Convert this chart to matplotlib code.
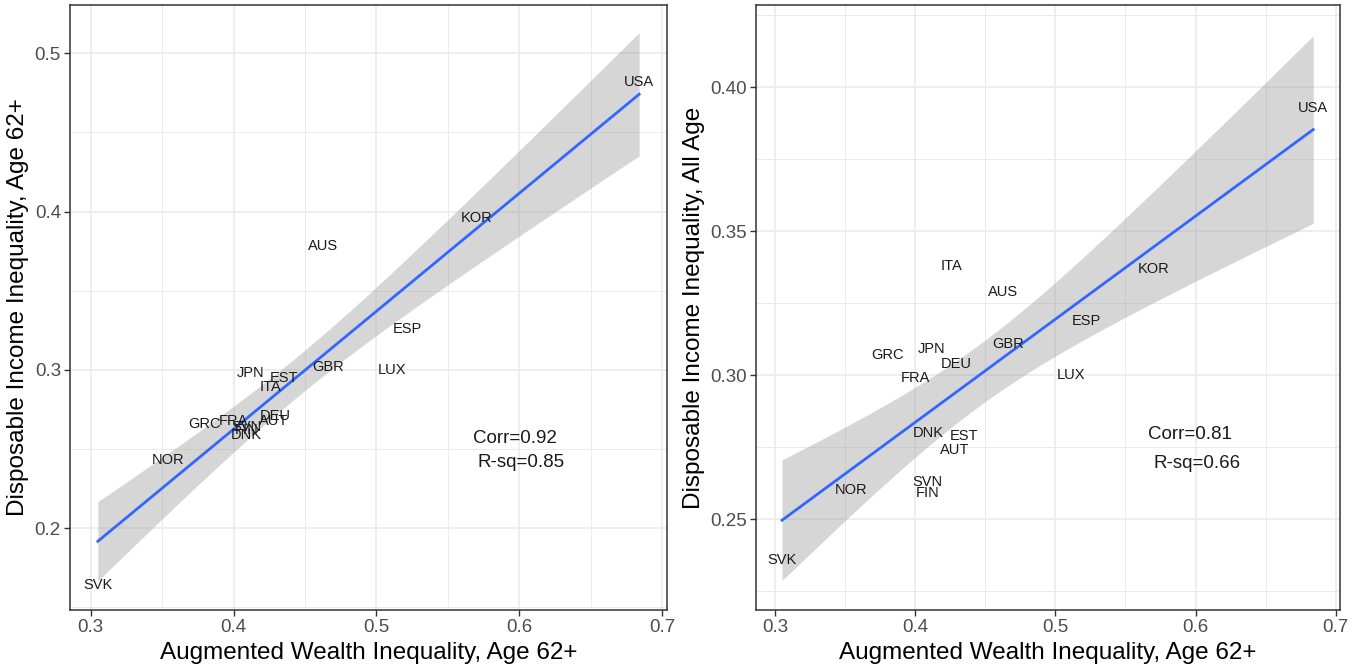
import numpy as np
import matplotlib.pyplot as plt

plt.rcParams['font.family'] = ['Liberation Sans', 'DejaVu Sans']

countries = ["USA", "KOR", "AUS", "ESP", "LUX", "GBR", "JPN", "EST", "ITA",
             "GRC", "FRA", "DEU", "AUT", "SVN", "FIN", "DNK", "NOR", "SVK"]
wealth = [0.684, 0.570, 0.463, 0.522, 0.511, 0.466, 0.412, 0.435, 0.426,
          0.380, 0.400, 0.429, 0.428, 0.409, 0.409, 0.409, 0.354, 0.305]
income_62 = [0.482, 0.396, 0.378, 0.326, 0.300, 0.302, 0.298, 0.295, 0.289,
             0.266, 0.268, 0.271, 0.268, 0.264, 0.262, 0.259, 0.243, 0.164]
income_all = [0.393, 0.337, 0.329, 0.319, 0.300, 0.311, 0.309, 0.279, 0.338,
              0.307, 0.299, 0.304, 0.274, 0.263, 0.259, 0.280, 0.260, 0.236]

T_CRIT = 2.1199  # t(0.975, df=16)


def lm_band(x, y, xs):
    """OLS fit with 95% confidence band, like geom_smooth(method='lm')."""
    x = np.asarray(x)
    y = np.asarray(y)
    n = len(x)
    b, a = np.polyfit(x, y, 1)
    resid = y - (a + b * x)
    s = np.sqrt(np.sum(resid**2) / (n - 2))
    se = s * np.sqrt(1 / n + (xs - x.mean())**2 / np.sum((x - x.mean())**2))
    fit = a + b * xs
    return fit, fit - T_CRIT * se, fit + T_CRIT * se


def draw_panel(ax, y, ylabel, corr_pos, rsq_pos, corr, rsq,
               xlim, ylim, yticks, yminor, yfmt):
    xs = np.linspace(min(wealth), max(wealth), 200)
    fit, lo, hi = lm_band(wealth, y, xs)
    ax.fill_between(xs, lo, hi, color="#999999", alpha=0.4, lw=0, zorder=2)
    ax.plot(xs, fit, color="#3366FF", lw=2, zorder=3)
    for c, xv, yv in zip(countries, wealth, y):
        ax.text(xv, yv, c, ha="center", va="center", fontsize=10.5,
                color="#1a1a1a", zorder=4)
    ax.text(*corr_pos, corr, ha="center", va="center", fontsize=13.5,
            color="#1a1a1a", zorder=4)
    ax.text(*rsq_pos, rsq, ha="center", va="center", fontsize=13.5,
            color="#1a1a1a", zorder=4)

    # ticks first, limits after (set_ticks may widen the view)
    ax.set_xticks([0.3, 0.4, 0.5, 0.6, 0.7])
    ax.set_xticks([0.35, 0.45, 0.55, 0.65], minor=True)
    ax.set_xticklabels(["0.3", "0.4", "0.5", "0.6", "0.7"])
    ax.set_yticks(yticks)
    ax.set_yticks(yminor, minor=True)
    ax.set_yticklabels([yfmt.format(v) for v in yticks])
    ax.set_xlim(*xlim)
    ax.set_ylim(*ylim)

    ax.grid(True, which="major", color="#EBEBEB", lw=1.2, zorder=0)
    ax.grid(True, which="minor", color="#EBEBEB", lw=0.7, zorder=0)
    ax.set_axisbelow(True)
    ax.tick_params(which="major", labelsize=13.5, labelcolor="#4D4D4D",
                   color="#333333", length=4, width=1, pad=2.5)
    ax.tick_params(which="minor", length=0)
    for sp in ax.spines.values():
        sp.set_color("#333333")
        sp.set_linewidth(1.1)
    ax.set_xlabel("Augmented Wealth Inequality, Age 62+", fontsize=17.5,
                  labelpad=4)
    ax.set_ylabel(ylabel, fontsize=17.5, labelpad=4)


fig = plt.figure(figsize=(13.61, 6.68), dpi=100)
ax1 = fig.add_axes([0.05143, 0.08683, 0.43865, 0.90569])
ax2 = fig.add_axes([0.55547, 0.08683, 0.42910, 0.90569])

draw_panel(ax1, income_62, "Disposable Income Inequality, Age 62+",
           (0.597, 0.257), (0.601, 0.2413), "Corr=0.92", "R-sq=0.85",
           (0.2855, 0.7035), (0.1484, 0.5305),
           [0.2, 0.3, 0.4, 0.5], [0.15, 0.25, 0.35, 0.45], "{:.1f}")
draw_panel(ax2, income_all, "Disposable Income Inequality, All Age",
           (0.596, 0.2793), (0.601, 0.2695), "Corr=0.81", "R-sq=0.66",
           (0.2864, 0.7031), (0.2185, 0.4286),
           [0.25, 0.30, 0.35, 0.40], [0.225, 0.275, 0.325, 0.375, 0.425], "{:.2f}")

fig.savefig("out.png", dpi=100)
